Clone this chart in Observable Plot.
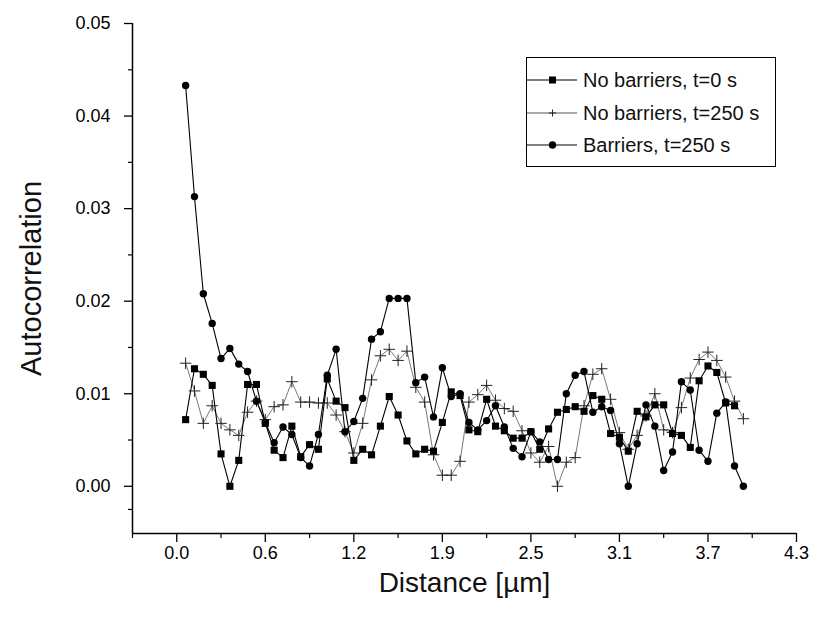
<!DOCTYPE html>
<html><head><meta charset="utf-8">
<script src="https://cdn.jsdelivr.net/npm/d3@7"></script>
<script src="https://cdn.jsdelivr.net/npm/@observablehq/plot@0.6"></script>
<style>
body{margin:0;background:#fff;font-family:"Liberation Sans",Arial,Helvetica,sans-serif}
#wrap{position:relative;width:824px;height:618px;overflow:hidden}
#legend{position:absolute;left:526px;top:57px;width:250px;height:110px;border:1.5px solid #000;background:#fff;box-sizing:border-box}
#legend .row{position:absolute;left:0;height:22px;display:flex;align-items:center}
#legend .row span{font-size:20px;color:#111;margin-left:6px;white-space:nowrap}
</style></head><body><div id="wrap"></div>
<script>
// distance grid (µm)
const distance = [0.062,0.124,0.186,0.248,0.310,0.372,0.434,0.496,0.558,0.620,
0.682,0.744,0.806,0.868,0.930,0.992,1.054,1.116,1.178,1.240,
1.302,1.364,1.426,1.488,1.550,1.612,1.674,1.736,1.798,1.860,
1.922,1.984,2.046,2.108,2.170,2.232,2.294,2.356,2.418,2.480,
2.542,2.604,2.666,2.728,2.790,2.852,2.914,2.976,3.038,3.100,
3.162,3.224,3.286,3.348,3.410,3.472,3.534,3.596,3.658,3.720,
3.782,3.844,3.906,3.968];

const seriesNames = ["No barriers, t=0 s", "No barriers, t=250 s", "Barriers, t=250 s"];

// No barriers, t=0 s (squares)
const noBarriers0 = [0.0072,0.0127,0.0121,0.0109,0.0035,0.0000,0.0028,0.0110,0.0110,0.0068,
0.0039,0.0031,0.0065,0.0032,0.0045,0.0040,0.0116,0.0092,0.0085,0.0028,
0.0040,0.0034,0.0065,0.0097,0.0077,0.0049,0.0035,0.0040,0.0038,0.0069,
0.0102,0.0098,0.0061,0.0059,0.0094,0.0065,0.0060,0.0052,0.0052,0.0059,
0.0040,0.0062,0.0080,0.0083,0.0086,0.0081,0.0098,0.0094,0.0057,0.0053,
0.0038,0.0081,0.0075,0.0088,0.0088,0.0057,0.0055,0.0042,0.0114,0.0130,
0.0123,0.0090,0.0087];

// No barriers, t=250 s (plus)
const noBarriers250 = [0.0133,0.0103,0.0068,0.0087,0.0068,0.0061,0.0055,0.0080,0.0092,0.0072,
0.0086,0.0088,0.0113,0.0091,0.0091,0.0090,0.0090,0.0077,0.0059,0.0036,
0.0068,0.0115,0.0141,0.0148,0.0136,0.0146,0.0107,0.0091,0.0034,0.0012,
0.0012,0.0027,0.0091,0.0099,0.0109,0.0093,0.0084,0.0081,0.0060,0.0036,
0.0026,0.0043,0.0000,0.0026,0.0031,0.0087,0.0121,0.0127,0.0094,0.0058,
0.0040,0.0055,0.0076,0.0100,0.0061,0.0058,0.0085,0.0117,0.0137,0.0145,
0.0136,0.0118,0.0092,0.0073];

// Barriers, t=250 s (circles)
const barriers250 = [0.0433,0.0313,0.0208,0.0176,0.0138,0.0149,0.0132,0.0124,0.0092,0.0069,
0.0047,0.0064,0.0056,0.0031,0.0022,0.0056,0.0120,0.0148,0.0059,0.0070,
0.0095,0.0159,0.0167,0.0203,0.0203,0.0203,0.0112,0.0118,0.0075,0.0128,
0.0097,0.0100,0.0069,0.0061,0.0071,0.0087,0.0064,0.0041,0.0032,0.0059,
0.0048,0.0029,0.0029,0.0100,0.0120,0.0124,0.0080,0.0086,0.0082,0.0046,
0.0000,0.0046,0.0088,0.0065,0.0017,0.0037,0.0113,0.0104,0.0039,0.0027,
0.0079,0.0091,0.0022,0.0000];

const xTicks = [0, 0.62, 1.24, 1.86, 2.48, 3.10, 3.72, 4.34];
const xTickLabels = ["0.0","0.6","1.2","1.9","2.5","3.1","3.7","4.3"];
const xMinorTicks = [-0.31, 0.31, 0.93, 1.55, 2.17, 2.79, 3.41, 4.03];
const yTicks = [0, 0.01, 0.02, 0.03, 0.04, 0.05];
const yTickLabels = ["0.00","0.01","0.02","0.03","0.04","0.05"];
const yMinorTicks = [-0.0025, 0.005, 0.015, 0.025, 0.035, 0.045];
const xDomain = [-0.31, 4.34];
const yDomain = [-0.0051, 0.05];

const toRows = (vals) => vals.map((v, i) => ({x: distance[i], y: v}));
const s0 = toRows(noBarriers0), s1 = toRows(noBarriers250), s2 = toRows(barriers250);
const xLab = new Map(xTicks.map((t, i) => [t, xTickLabels[i]]));
const yLab = new Map(yTicks.map((t, i) => [t, yTickLabels[i]]));
const font = "'Liberation Sans', Arial, Helvetica, sans-serif";

const chart = Plot.plot({
  width: 824, height: 618,
  marginLeft: 132, marginRight: 28, marginTop: 23, marginBottom: 85,
  style: {fontFamily: font, color: "#000", background: "#fff", overflow: "visible"},
  x: {domain: xDomain},
  y: {domain: yDomain},
  marks: [
    Plot.ruleX([xDomain[0]], {y1: yDomain[0], y2: yDomain[1], stroke: "#000", strokeWidth: 1.5}),
    Plot.ruleY([yDomain[0]], {x1: xDomain[0], x2: xDomain[1], stroke: "#000", strokeWidth: 1.5}),
    Plot.axisY({ticks: yTicks, tickFormat: d => yLab.get(d), tickSize: 8, tickPadding: 14, fontSize: 18, label: null, strokeWidth: 1.3}),
    Plot.axisY({ticks: yMinorTicks, tickFormat: () => "", tickSize: 4, label: null, strokeWidth: 1.2}),
    Plot.axisX({ticks: xTicks, tickFormat: d => xLab.get(d), tickSize: 9, tickPadding: 4, fontSize: 18, label: null, strokeWidth: 1.3}),
    Plot.axisX({ticks: xMinorTicks, tickFormat: () => "", tickSize: 5, label: null, strokeWidth: 1.2}),
    Plot.text(["Autocorrelation"], {frameAnchor: "left", textAnchor: "middle", lineAnchor: "middle", rotate: -90, dx: -101, fontSize: 29, fill: "#111"}),
    Plot.text(["Distance [µm]"], {frameAnchor: "bottom", textAnchor: "middle", lineAnchor: "middle", dy: 50, fontSize: 28, fill: "#111"}),
    Plot.line(s1, {x: "x", y: "y", stroke: "#555", strokeWidth: 0.8}),
    Plot.line(s0, {x: "x", y: "y", stroke: "#000", strokeWidth: 1.1}),
    Plot.line(s2, {x: "x", y: "y", stroke: "#000", strokeWidth: 1.1}),
    Plot.dot(s1, {x: "x", y: "y", symbol: "plus", r: 3.8, stroke: "#222", strokeWidth: 1}),
    Plot.dot(s0, {x: "x", y: "y", symbol: "square", r: 4, fill: "#000", stroke: "none"}),
    Plot.dot(s2, {x: "x", y: "y", symbol: "circle", r: 3.7, fill: "#000", stroke: "none"})
  ]
});
const wrap = document.getElementById("wrap");
wrap.appendChild(chart);

// legend
const legend = document.createElement("div");
legend.id = "legend";
const symbols = ["square", "plus", "circle"];
const rowsTop = [11, 44, 76];
seriesNames.forEach((name, i) => {
  const row = document.createElement("div");
  row.className = "row";
  row.style.top = rowsTop[i] + "px";
  const svg = d3.create("svg").attr("width", 50).attr("height", 22);
  svg.append("line").attr("x1", 0).attr("x2", 50).attr("y1", 11).attr("y2", 11)
    .attr("stroke", i === 1 ? "#555" : "#000").attr("stroke-width", 1.1);
  if (symbols[i] === "square") svg.append("rect").attr("x", 22).attr("y", 7.5).attr("width", 7).attr("height", 7).attr("fill", "#000");
  if (symbols[i] === "circle") svg.append("circle").attr("cx", 25.5).attr("cy", 11).attr("r", 3.7).attr("fill", "#000");
  if (symbols[i] === "plus") svg.append("path").attr("d", "M22,11H29M25.5,7.5V14.5").attr("stroke", "#222").attr("stroke-width", 1);
  row.appendChild(svg.node());
  const span = document.createElement("span");
  span.textContent = name;
  row.appendChild(span);
  legend.appendChild(row);
});
wrap.appendChild(legend);
</script>
</body></html>
